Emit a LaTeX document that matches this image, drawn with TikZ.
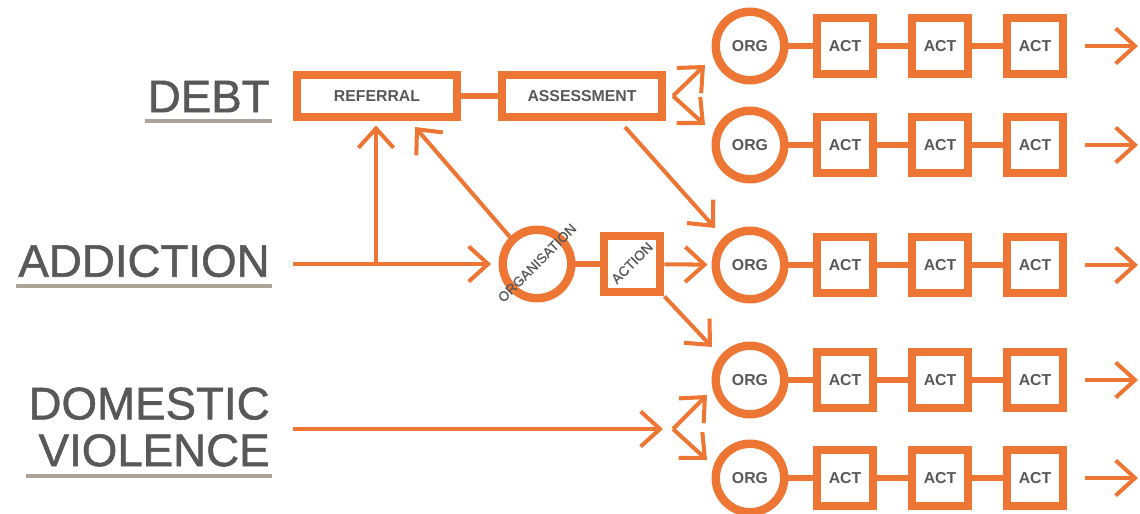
\documentclass[tikz,border=0pt]{standalone}
\usepackage{fontspec}
\setmainfont{Liberation Sans}
\newfontfamily\issuefont[FakeBold=1.2]{Liberation Sans}
\newfontfamily\tiltfont[FakeBold=0.6]{Liberation Sans}
\usetikzlibrary{arrows.meta}
\definecolor{orng}{RGB}{238,118,52}
\definecolor{ink}{RGB}{88,88,88}
\definecolor{rule}{RGB}{172,162,152}
\begin{document}
\begin{tikzpicture}[x=0.02cm,y=-0.02cm]
    \tikzstyle{all nodes}=[text=ink,font=\fontsize{9}{10}\selectfont\bfseries]
    \tikzstyle{box}=[all nodes,draw=orng,line width=4.8pt,minimum width=3.21cm,minimum height=0.85cm]
    \tikzstyle{org}=[all nodes,circle,draw=orng,line width=4.8pt,minimum size=1.37cm,inner sep=0pt]
    \tikzstyle{act}=[all nodes,draw=orng,line width=4.8pt,minimum size=1.11cm,inner sep=0pt]
    \tikzstyle{tilted}=[text=ink,font=\fontsize{7.8}{9}\tiltfont,rotate=45,inner sep=0pt]
    \tikzstyle{issue}=[anchor=east,text=ink,font=\fontsize{26}{26.6}\issuefont,align=right,inner xsep=0pt,inner ysep=5pt]
    \tikzstyle{link}=[draw=orng,line width=3.4pt]
    \tikzstyle{arr}=[draw=orng,line width=2.3pt,-{Straight Barb[length=11pt,width=20pt]}]
    \tikzstyle{uline}=[draw=rule,line width=2.3pt]
    \useasboundingbox (0,0) rectangle (1140,514);
    % issues on the left
    \draw node[issue](debt)at(270,96.5){DEBT}
          node[issue](addiction)at(270,261){ADDICTION}
          node[issue](domestic)at(270,427){DOMESTIC\\VIOLENCE};
    \draw[uline]([xshift=-0.04cm]debt.south west)--([xshift=0.04cm]debt.south east);
    \draw[uline]([xshift=-0.04cm]addiction.south west)--([xshift=0.04cm]addiction.south east);
    \draw[uline]([xshift=-0.04cm]domestic.south west)--([xshift=0.04cm]domestic.south east);
    % referral and assessment
    \draw node[box](ref)at(377,96){REFERRAL}
          node[box](assess)at(582,96){ASSESSMENT};
    \draw[link](ref)--(assess);
    % organisation and action
    \draw node[org](orgn)at(537,264){} node[tilted](orgtxt)at(537,263){ORGANISATION}
          node[act,minimum size=1.13cm](action)at(632,264){} node[tilted](acttxt)at(632,263){ACTION};
    \draw[link](orgn)--(action);
    % five chains of org and act
    \draw node[org](o1)at(750,46){ORG} node[act](a11)at(845,46){ACT}
          node[act](a12)at(940,46){ACT} node[act](a13)at(1035,46){ACT};
    \draw node[org](o2)at(750,145){ORG} node[act](a21)at(845,145){ACT}
          node[act](a22)at(940,145){ACT} node[act](a23)at(1035,145){ACT};
    \draw node[org](o3)at(750,265){ORG} node[act](a31)at(845,265){ACT}
          node[act](a32)at(940,265){ACT} node[act](a33)at(1035,265){ACT};
    \draw node[org](o4)at(750,380){ORG} node[act](a41)at(845,380){ACT}
          node[act](a42)at(940,380){ACT} node[act](a43)at(1035,380){ACT};
    \draw node[org](o5)at(750,478){ORG} node[act](a51)at(845,478){ACT}
          node[act](a52)at(940,478){ACT} node[act](a53)at(1035,478){ACT};
    \draw[link](o1)--(a11)--(a12)--(a13);
    \draw[link](o2)--(a21)--(a22)--(a23);
    \draw[link](o3)--(a31)--(a32)--(a33);
    \draw[link](o4)--(a41)--(a42)--(a43);
    \draw[link](o5)--(a51)--(a52)--(a53);
    % free ends of the arrows
    \coordinate(addfrom)at(293,264); \coordinate(fork)at(376,264);
    \coordinate(reftip)at(415,127);
    \coordinate(asplit)at(673,96); \coordinate(up1)at(705,65); \coordinate(dn1)at(705,125);
    \coordinate(asfrom)at(625,127); \coordinate(o3tip)at(715,228);
    \coordinate(o4tip)at(712,347);
    \coordinate(domfrom)at(293,429); \coordinate(domtip)at(663,429);
    \coordinate(dsplit)at(673,429); \coordinate(up2)at(707,395); \coordinate(dn2)at(707,460);
    \coordinate(e1)at(1138,46); \coordinate(e2)at(1138,145); \coordinate(e3)at(1138,265);
    \coordinate(e4)at(1138,380); \coordinate(e5)at(1138,478);
    % arrows
    \draw[arr,shorten >=0.15cm](addfrom)--(orgn);
    \draw[arr,shorten >=0.08cm](fork)--(fork|-ref.south);
    \draw[arr](orgn.north west)--(reftip);
    \draw[arr](asplit)--(up1);
    \draw[arr](asplit)--(dn1);
    \draw[arr](asfrom)--(o3tip);
    \draw[arr,shorten >=0.08cm](action)--(o3);
    \draw[arr](action.south east)--(o4tip);
    \draw[arr](domfrom)--(domtip);
    \draw[arr](dsplit)--(up2);
    \draw[arr](dsplit)--(dn2);
    \draw[arr,shorten <=0.36cm](a13)--(e1);
    \draw[arr,shorten <=0.36cm](a23)--(e2);
    \draw[arr,shorten <=0.36cm](a33)--(e3);
    \draw[arr,shorten <=0.36cm](a43)--(e4);
    \draw[arr,shorten <=0.36cm](a53)--(e5);
\end{tikzpicture}
\end{document}
